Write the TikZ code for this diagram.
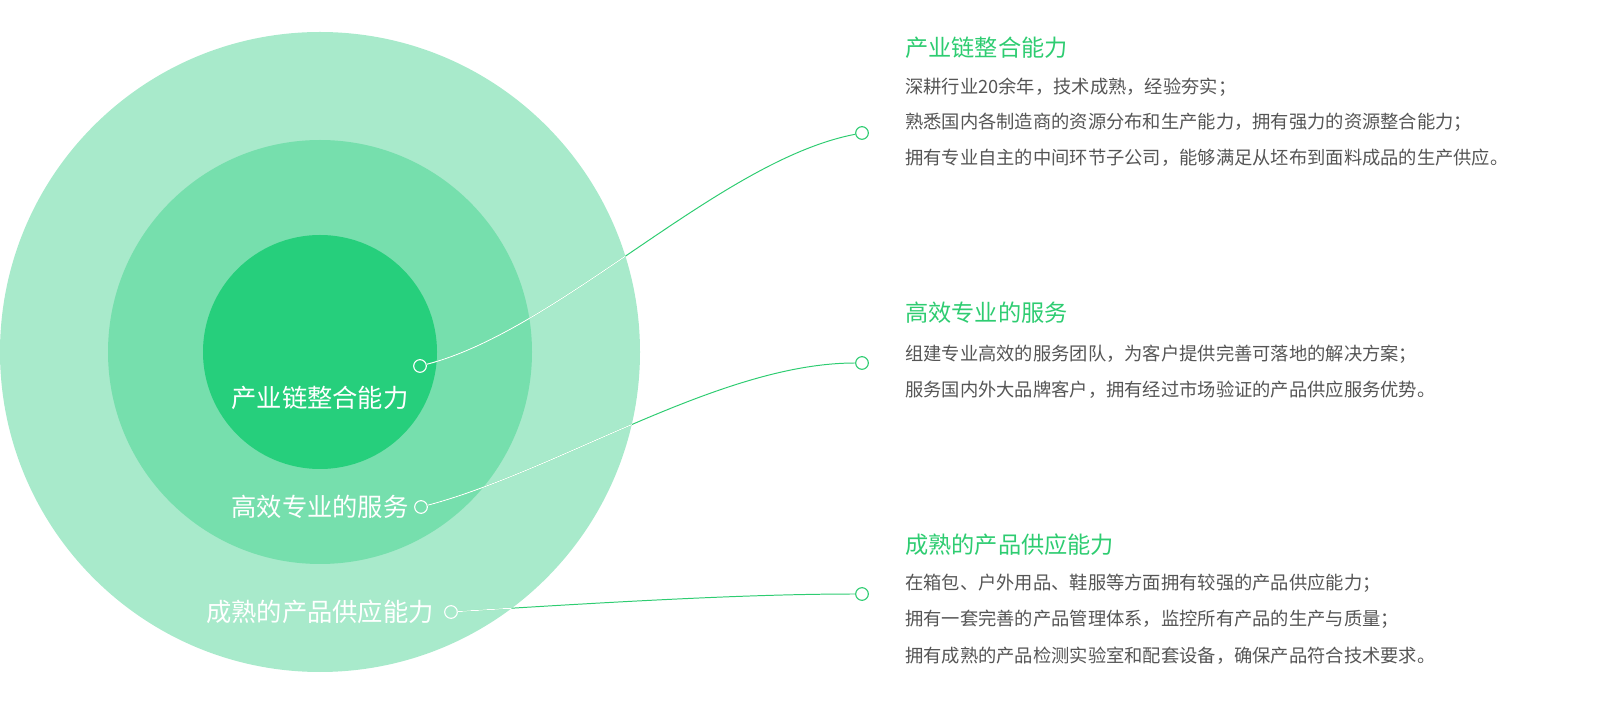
\documentclass[tikz,border=0pt]{standalone}
\usepackage{fontspec}
\setmainfont{Noto Sans CJK SC}
\definecolor{c1}{HTML}{A8EACB}
\definecolor{c2}{HTML}{76DFAD}
\definecolor{c3}{HTML}{26CF7C}
\definecolor{gl}{HTML}{2ECC71}
\definecolor{tg}{HTML}{555555}
\begin{document}
\begin{tikzpicture}[x=0.025cm,y=-0.025cm,
  ttl/.style={anchor=west,text=gl,font=\fontsize{16.5pt}{18pt}\selectfont,inner sep=0},
  bd/.style={anchor=west,text=tg,font=\fontsize{13pt}{15pt}\selectfont,inner sep=0},
  cl/.style={text=white,font=\fontsize{18pt}{20pt}\selectfont,inner sep=0},
  dotw/.style={circle,draw=white,fill=none,line width=0.8pt,minimum size=9pt,inner sep=0},
  dotg/.style={circle,draw=gl,fill=white,line width=0.8pt,minimum size=9pt,inner sep=0},
  conn/.style={line width=0.7pt}]
\useasboundingbox (0,0) rectangle (1600,714);
\fill[c1] (320,352) circle[radius=320];
\fill[c2] (320,352) circle[radius=212];
\fill[c3] (320,352) circle[radius=117];
\node[cl] (l1) at (320,398) {产业链整合能力};
\node[cl] (l2) at (320,507) {高效专业的服务};
\node[cl] (l3) at (320,612) {成熟的产品供应能力};
\node[dotw] (a1) at (420,366) {};
\node[dotw] (a2) at (421,507) {};
\node[dotw] (a3) at (451,612) {};
\node[dotg] (b1) at (862,133) {};
\node[dotg] (b2) at (862,363) {};
\node[dotg] (b3) at (862,594) {};
\draw[conn,gl] (a1) .. controls (560,330) and (720,160) .. (b1);
\draw[conn,gl] (a2) .. controls (560,470) and (720,363) .. (b2);
\draw[conn,gl] (a3) .. controls (640,600) and (760,594) .. (b3);
\begin{scope}
\clip (320,352) circle[radius=320];
\draw[conn,white] (a1) .. controls (560,330) and (720,160) .. (b1);
\draw[conn,white] (a2) .. controls (560,470) and (720,363) .. (b2);
\draw[conn,white] (a3) .. controls (640,600) and (760,594) .. (b3);
\end{scope}
\node[ttl] (t1) at (905,48) {产业链整合能力};
\node[bd] (x11) at (905,87) {深耕行业20余年，技术成熟，经验夯实；};
\node[bd] (x12) at (905,122) {熟悉国内各制造商的资源分布和生产能力，拥有强力的资源整合能力；};
\node[bd] (x13) at (905,158) {拥有专业自主的中间环节子公司，能够满足从坯布到面料成品的生产供应。};
\node[ttl] (t2) at (905,313) {高效专业的服务};
\node[bd] (x21) at (905,354) {组建专业高效的服务团队，为客户提供完善可落地的解决方案；};
\node[bd] (x22) at (905,390) {服务国内外大品牌客户，拥有经过市场验证的产品供应服务优势。};
\node[ttl] (t3) at (905,545) {成熟的产品供应能力};
\node[bd] (x31) at (905,583) {在箱包、户外用品、鞋服等方面拥有较强的产品供应能力；};
\node[bd] (x32) at (905,619) {拥有一套完善的产品管理体系，监控所有产品的生产与质量；};
\node[bd] (x33) at (905,656) {拥有成熟的产品检测实验室和配套设备，确保产品符合技术要求。};
\end{tikzpicture}
\end{document}
